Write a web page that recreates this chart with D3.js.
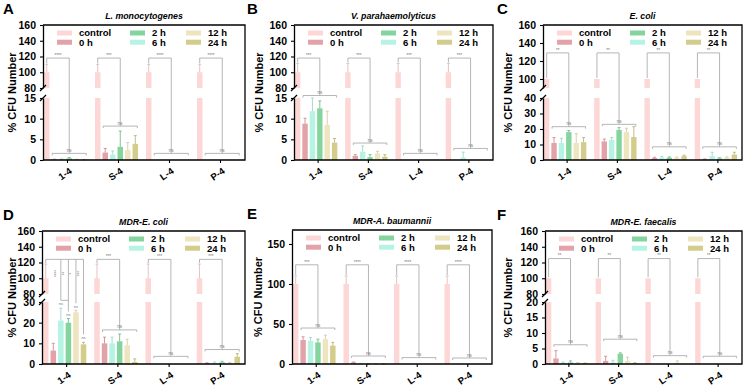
<!DOCTYPE html>
<html>
<head>
<meta charset="utf-8">
<script src="https://cdn.jsdelivr.net/npm/d3@7"></script>
<style>
body { margin: 0; background: #fff; }
svg { font-family: "Liberation Sans", Arial, sans-serif; }
</style>
</head>
<body>
<div id="chart"></div>
<script>
// categories and series
const groups = ["1-4", "S-4", "L-4", "P-4"];
const legendNames = ["control", "0 h", "2 h", "6 h", "12 h", "24 h"];
const barOrder = ["control", "0 h", "6 h", "2 h", "12 h", "24 h"];
const seriesColors = {
    "control": "#fdd6d6", "0 h": "#e3a1a8", "2 h": "#84d49d",
    "6 h": "#b5f3e3", "12 h": "#eee4be", "24 h": "#d3cc8a"
};

// values per group, in barOrder order (mean, then SD)
const meanA = [[100, 0.1, 0.15, 0.4, 0.1, 0.05], [100, 1.8, 1.3, 3.2, 2.4, 3.9], [100, 0, 0, 0, 0, 0], [100, 0, 0, 0, 0, 0]];
const errA  = [[10, 0.1, 0.1, 0.2, 0.1, 0.05], [10, 1.0, 0.9, 3.8, 1.8, 2.0], [10, 0, 0, 0, 0, 0], [10, 0, 0, 0, 0, 0]];
const starsA = ["****", "***", "****", "****"];
const nsA = [1.6, 8.2, 1.6, 1.6];

const meanB = [[100, 8.8, 11.8, 12.5, 8.5, 4.2], [100, 1.0, 2.0, 0.7, 1.6, 0.8], [100, 0, 0, 0, 0, 0], [100, 0, 0.6, 0, 0, 0]];
const errB  = [[11, 1.3, 3.2, 1.8, 3.3, 1.0], [11, 0.3, 1.4, 0.6, 0.5, 0.5], [11, 0, 0, 0, 0, 0], [11, 0, 1.3, 0, 0, 0]];
const starsB = ["***", "***", "***", "***"];
const nsB = [15.6, 4.1, 1.6, 2.8];

const meanC = [[100, 11, 11, 18, 11, 11.5], [100, 12, 13, 19.4, 18, 14.8], [100, 1.3, 1.5, 1.5, 1.4, 2.5], [100, 0.4, 2.5, 1.0, 1.5, 3.5]];
const errC  = [[0, 3.5, 3, 1, 6, 3], [0, 1.5, 1.5, 1.5, 2.5, 6.7], [0, 0.5, 0.8, 0.5, 0.5, 0.6], [0, 0.3, 2.5, 0.5, 0.5, 1.5]];
const starsC = ["**", "**", "**", "**"];
const nsC = [21.5, 23, 8.5, 8.5];

const meanD = [[100, 6.5, 21, 20, 25, 9.5], [100, 10, 10, 11, 9, 1], [100, 0, 0, 0, 0, 0], [100, 0.3, 0.5, 0.8, 0.5, 3.5]];
const errD  = [[18, 3.5, 6, 2, 1, 1], [18, 3, 3, 3.5, 3, 1.5], [18, 0, 0, 0, 0, 0], [18, 0.3, 0.5, 0.5, 0.3, 1.5]];
const starsD = ["", "***", "***", "***"];
const nsD = [0, 16.5, 3.7, 7];
// D, group 1-4: pairwise marks for 6 h, 2 h, 12 h, 24 h
const starsD1 = ["****", "**", "*", "***"];
const nsD1 = [28, 22.5, 26.5, 11.5];

const meanE = [[100, 30, 29, 27, 31, 23], [100, 2, 0.5, 0.3, 0.3, 0.2], [100, 0, 0, 0, 0, 0], [100, 0, 0, 0, 0, 0]];
const errE  = [[10, 4, 4, 4, 5, 4], [10, 0.5, 0.3, 0.2, 0.2, 0.1], [10, 0, 0, 0, 0, 0], [10, 0, 0, 0, 0, 0]];
const starsE = ["***", "****", "****", "****"];
const nsE = [45, 10, 8, 7.5];

const meanF = [[100, 1.8, 0.3, 0.5, 0.3, 0.2], [100, 1.0, 0.5, 3.3, 1.0, 0.3], [100, 0, 0, 0, 0.4, 0], [100, 0, 0, 0, 0, 0]];
const errF  = [[0, 2.5, 0.3, 0.5, 0.2, 0.1], [0, 1.5, 0.7, 0.3, 1.2, 0.1], [0, 0, 0, 0, 0.6, 0], [0, 0, 0, 0, 0, 0]];
const starsF = ["**", "**", "**", "**"];
const nsF = [6.2, 8, 2.7, 2.5];

// tick labels
const ticksHigh80 = [80, 100, 120, 140, 160];
const ticksHigh100 = [100, 120, 140, 160];
const ticksLow15 = [0, 5, 10, 15];
const ticksLow20 = [0, 5, 10, 15, 20];
const ticksLow30 = [0, 10, 20, 30];
const ticksLow40 = [0, 10, 20, 30, 40];
const ticksE = [0, 50, 100, 150];

const panels = [
    { id: "A", title: "L. monocytogenes", mean: meanA, err: errA, stars: starsA, ns: nsA, topY: 118,
      lowMax: 15, lowTicks: ticksLow15, highMin: 80, highTicks: ticksHigh80 },
    { id: "B", title: "V. parahaemolyticus", mean: meanB, err: errB, stars: starsB, ns: nsB, topY: 118,
      lowMax: 15, lowTicks: ticksLow15, highMin: 80, highTicks: ticksHigh80 },
    { id: "C", title: "E. coli", mean: meanC, err: errC, stars: starsC, ns: nsC, topY: 129,
      lowMax: 40, lowTicks: ticksLow40, highMin: 90, highTicks: ticksHigh100 },
    { id: "D", title: "MDR-E. coli", mean: meanD, err: errD, stars: starsD, ns: nsD, topY: 124,
      lowMax: 30, lowTicks: ticksLow30, highMin: 80, highTicks: ticksHigh80 },
    { id: "E", title: "MDR-A. baumannii", mean: meanE, err: errE, stars: starsE, ns: nsE, topY: 124,
      max: 167.5, ticks: ticksE },
    { id: "F", title: "MDR-E. faecalis", mean: meanF, err: errF, stars: starsF, ns: nsF, topY: 125,
      lowMax: 20, lowTicks: ticksLow20, highMin: 80, highTicks: ticksHigh80 }
];

// where each panel sits on the page
const layout = {
    A: { x0: 43, x1: 245, top: 25, bottom: 160, letterX: 3, labelX: 12 },
    B: { x0: 294, x1: 493, top: 25, bottom: 160, letterX: 247, labelX: 259 },
    C: { x0: 543, x1: 742, top: 25, bottom: 160, letterX: 497, labelX: 508 },
    D: { x0: 42, x1: 245, top: 231, bottom: 364, letterX: 3, labelX: 12 },
    E: { x0: 292, x1: 492, top: 230, bottom: 364, letterX: 247, labelX: 258 },
    F: { x0: 545, x1: 742, top: 231, bottom: 364, letterX: 497, labelX: 508 }
};

const width = 744, height = 387;
const gray = "#a3a3a3";

const svg = d3.select("#chart").append("svg")
    .attr("width", width)
    .attr("height", height);

function drawPanel(p) {
    const L = layout[p.id];
    const g = svg.append("g");
    const broken = p.max === undefined;

    // y mapping, possibly with a break
    let pos, low, high, lin;
    if (broken) {
        low = d3.scaleLinear().domain([0, p.lowMax]).range([L.bottom, L.bottom - 62]);
        high = d3.scaleLinear().domain([p.highMin, 160]).range([L.top + 63, L.top]);
        pos = v => v <= p.lowMax + 2 ? low(v) : (v >= p.highMin ? high(v) : high(p.highMin));
    } else {
        lin = d3.scaleLinear().domain([0, p.max]).range([L.bottom, L.top]);
        pos = v => lin(v);
    }

    const x = d3.scaleBand().domain(groups).range([L.x0 - 1, L.x1 + 1]);
    const xi = d3.scaleBand().domain(barOrder).range([1, x.bandwidth() - 5]).paddingInner(0.27).paddingOuter(0.13);
    const cx = (gi, si) => x(groups[gi]) + xi(barOrder[si]) + xi.bandwidth() / 2;

    // bars
    p.mean.forEach((row, gi) => {
        row.forEach((v, si) => {
            const name = barOrder[si];
            const bx = x(groups[gi]) + xi(name);
            const col = seriesColors[name];
            if (v <= 0) return;
            if (broken && v > p.lowMax) {
                g.append("rect").attr("x", bx).attr("width", xi.bandwidth())
                    .attr("y", low(p.lowMax)).attr("height", low(0) - low(p.lowMax)).attr("fill", col);
                g.append("rect").attr("x", bx).attr("width", xi.bandwidth())
                    .attr("y", high(v)).attr("height", high(p.highMin) - high(v)).attr("fill", col);
            } else {
                g.append("rect").attr("x", bx).attr("width", xi.bandwidth())
                    .attr("y", pos(v)).attr("height", Math.max(0.6, pos(0) - pos(v))).attr("fill", col);
            }
            const e = p.err[gi][si];
            if (e > 0) {
                const ec = d3.color(col).darker(0.35);
                const c = bx + xi.bandwidth() / 2;
                g.append("line").attr("x1", c).attr("x2", c)
                    .attr("y1", pos(v)).attr("y2", pos(v + e))
                    .attr("stroke", ec).attr("stroke-width", 0.9);
                g.append("line").attr("x1", c - 1.5).attr("x2", c + 1.5)
                    .attr("y1", pos(v + e)).attr("y2", pos(v + e))
                    .attr("stroke", ec).attr("stroke-width", 0.9);
            }
        });
    });

    // significance brackets
    groups.forEach((grp, gi) => {
        const cx0 = cx(gi, 0);
        const ctrlTop = pos(p.mean[gi][0] + p.err[gi][0]) - 1;
        const yTop = pos(p.topY);
        const cxT = (cx(gi, 1) + cx(gi, 5)) / 2;

        if (p.id === "D" && gi === 0) {
            const xEnd = cx(gi, 5);
            g.append("path")
                .attr("d", `M${cx0},${ctrlTop}V${yTop}H${xEnd}`)
                .attr("fill", "none").attr("stroke", gray).attr("stroke-width", 0.8);
            [2, 3, 4, 5].forEach((si, k) => {
                const c = cx(gi, si);
                const yEnd = pos(nsD1[k]) - 6;
                g.append("line").attr("x1", c).attr("x2", c).attr("y1", yTop).attr("y2", yEnd)
                    .attr("stroke", gray).attr("stroke-width", 0.8);
                g.append("text")
                    .attr("transform", `translate(${c - 2.5},${pos(106)}) rotate(-90)`)
                    .attr("text-anchor", "middle")
                    .attr("font-size", 4.5).attr("fill", "#777")
                    .text(starsD1[k]);
                g.append("text").attr("x", c).attr("y", pos(nsD1[k]) - 1.5)
                    .attr("text-anchor", "middle").attr("font-size", 4).attr("fill", "#777")
                    .text("ns");
            });
            const yc = pos(30.8);
            g.append("line").attr("x1", cx(gi, 2)).attr("x2", cx(gi, 3)).attr("y1", yc).attr("y2", yc)
                .attr("stroke", gray).attr("stroke-width", 0.8);
            return;
        }

        const yNs = pos(p.ns[gi]);
        g.append("path")
            .attr("d", `M${cx0},${ctrlTop}V${yTop}H${cxT}V${yNs}`)
            .attr("fill", "none").attr("stroke", gray).attr("stroke-width", 0.8);
        g.append("text").attr("x", (cx0 + cxT) / 2).attr("y", yTop - 1.2)
            .attr("text-anchor", "middle").attr("font-size", 4.5).attr("fill", "#777")
            .text(p.stars[gi]);

        const xl = cx(gi, 1) - 2, xr = cx(gi, 5) + 2;
        g.append("path")
            .attr("d", `M${xl},${yNs + 2}V${yNs}H${xr}V${yNs + 2}`)
            .attr("fill", "none").attr("stroke", gray).attr("stroke-width", 0.8);
        g.append("text").attr("x", cxT).attr("y", yNs - 1.5)
            .attr("text-anchor", "middle").attr("font-size", 4.5).attr("fill", "#777")
            .text("ns");
    });

    // frame: top, right, bottom
    g.append("path")
        .attr("d", `M${L.x0},${L.top}H${L.x1}V${L.bottom}H${L.x0}`)
        .attr("fill", "none").attr("stroke", "#000").attr("stroke-width", 1.3);

    // y axis
    const styleAxis = a => {
        a.selectAll(".domain").attr("stroke-width", 1.3);
        a.selectAll(".tick line").attr("stroke-width", 1.1);
        a.selectAll(".tick text")
            .attr("font-size", 10.5).attr("font-weight", "bold")
            .attr("font-family", "'Liberation Sans', Arial, sans-serif").attr("dx", "-1");
    };
    if (broken) {
        const aLow = g.append("g").attr("transform", `translate(${L.x0},0)`)
            .call(d3.axisLeft(low).tickValues(p.lowTicks).tickSize(3).tickSizeOuter(0));
        styleAxis(aLow);
        const aHigh = g.append("g").attr("transform", `translate(${L.x0},0)`)
            .call(d3.axisLeft(high).tickValues(p.highTicks).tickSize(3).tickSizeOuter(0));
        styleAxis(aHigh);
        // break marks
        [high(p.highMin), low(p.lowMax)].forEach(yb => {
            g.append("line").attr("x1", L.x0 - 3).attr("x2", L.x0 + 3)
                .attr("y1", yb + 3).attr("y2", yb - 3)
                .attr("stroke", "#000").attr("stroke-width", 1.2);
        });
    } else {
        const a = g.append("g").attr("transform", `translate(${L.x0},0)`)
            .call(d3.axisLeft(lin).tickValues(p.ticks).tickSize(3).tickSizeOuter(0));
        styleAxis(a);
    }

    // x axis ticks and labels
    groups.forEach(grp => {
        const tx = x(grp) + x.bandwidth() / 2;
        g.append("line").attr("x1", tx).attr("x2", tx)
            .attr("y1", L.bottom).attr("y2", L.bottom + 3)
            .attr("stroke", "#000").attr("stroke-width", 1.1);
        g.append("text")
            .attr("transform", `translate(${tx + 5},${L.bottom + 12.5}) rotate(-35)`)
            .attr("text-anchor", "end")
            .attr("font-size", 9.5).attr("font-weight", "bold")
            .text(grp);
    });

    // legend
    const colX = [14, 87, 143];
    legendNames.forEach((name, i) => {
        const lx = L.x0 + colX[Math.floor(i / 2)];
        const ly = L.top + 8 + (i % 2) * 9.2;
        g.append("rect").attr("x", lx).attr("y", ly - 2.5)
            .attr("width", 15).attr("height", 5).attr("fill", seriesColors[name]);
        g.append("text").attr("x", lx + 22).attr("y", ly).attr("dy", "0.35em")
            .attr("font-size", 9.5).attr("font-weight", "bold")
            .text(name);
    });

    // axis title, panel title and letter
    const midY = (L.top + L.bottom) / 2;
    g.append("text")
        .attr("transform", `translate(${L.labelX + 4},${midY}) rotate(-90)`)
        .attr("text-anchor", "middle")
        .attr("font-size", 11).attr("font-weight", "bold")
        .text("% CFU Number");
    g.append("text")
        .attr("x", (L.x0 + L.x1) / 2).attr("y", L.top - 6)
        .attr("text-anchor", "middle")
        .attr("font-size", 8.8).attr("font-weight", "bold").attr("font-style", "italic")
        .text(p.title);
    g.append("text")
        .attr("x", L.letterX).attr("y", L.top - 11.5)
        .attr("font-size", 15).attr("font-weight", "bold")
        .text(p.id);
}

panels.forEach(drawPanel);
</script>
</body>
</html>
